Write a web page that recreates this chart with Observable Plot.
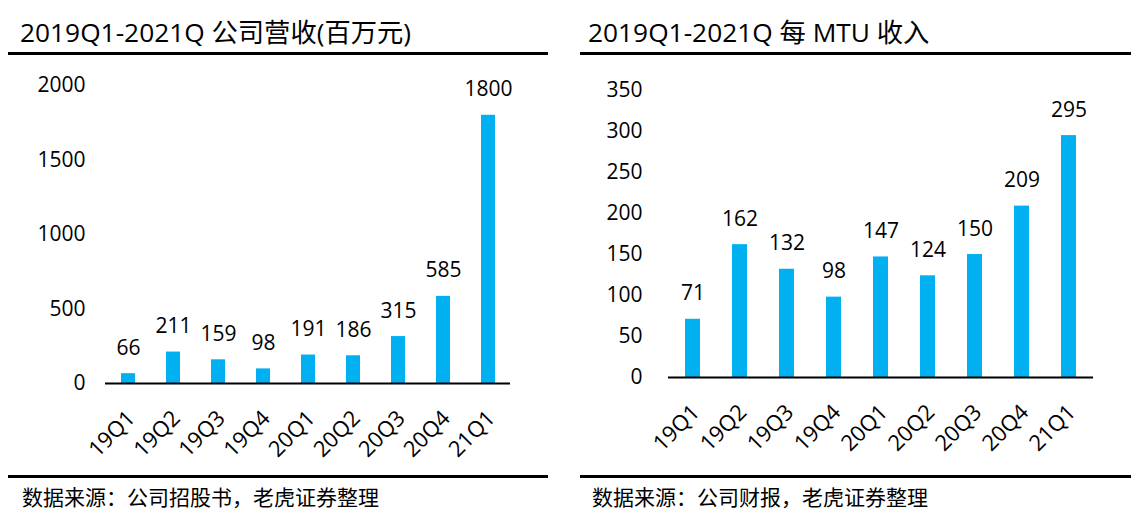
<!DOCTYPE html>
<html>
<head>
<meta charset="utf-8">
<script src="https://cdn.jsdelivr.net/npm/d3@7"></script>
<script src="https://cdn.jsdelivr.net/npm/@observablehq/plot@0.6"></script>
<style>
  html, body { margin: 0; padding: 0; background: #fff; }
  body { width: 1141px; height: 521px; position: relative; overflow: hidden;
         font-family: "Open Sans", "Noto Sans CJK SC", sans-serif; color: #000; }
  .title { position: absolute; top: 15px; font-size: 26.3px; line-height: 34px; white-space: nowrap; }
  .rule { position: absolute; height: 3px; background: #000; }
  .caption { position: absolute; top: 482px; font-size: 21px; line-height: 28px; white-space: nowrap;
             font-family: "Noto Sans CJK SC", sans-serif; }
  .plot { position: absolute; top: 60px; }
  .plot svg { overflow: visible; }
</style>
</head>
<body>
<div class="title" style="left:20px">2019Q1-2021Q 公司营收(百万元)</div>
<div class="title" style="left:588px">2019Q1-2021Q 每 MTU 收入</div>
<div class="rule" style="left:8px;width:540px;top:52px"></div>
<div class="rule" style="left:580px;width:551px;top:52px"></div>
<div class="rule" style="left:8px;width:540px;top:475px"></div>
<div class="rule" style="left:580px;width:551px;top:475px"></div>
<div class="caption" style="left:22px">数据来源：公司招股书，老虎证券整理</div>
<div class="caption" style="left:592px">数据来源：公司财报，老虎证券整理</div>
<div id="left" class="plot" style="left:0px"></div>
<div id="right" class="plot" style="left:570px"></div>
<script>
const quarters = ["19Q1","19Q2","19Q3","19Q4","20Q1","20Q2","20Q3","20Q4","21Q1"];
const revenue = [66, 211, 159, 98, 191, 186, 315, 585, 1800];
const revPerMTU = [71, 162, 132, 98, 147, 124, 150, 209, 295];
const revTicks = [0, 500, 1000, 1500, 2000];
const mtuTicks = [0, 50, 100, 150, 200, 250, 300, 350];

const barColor = "#00B0F0";
const font = '"Open Sans", "Noto Sans CJK SC", sans-serif';

function makeChart(values, ticks, maxY, opts) {
  const data = quarters.map((q, i) => ({q, v: values[i]}));
  return Plot.plot({
    width: opts.width,
    height: 400,
    marginLeft: opts.ml,
    marginRight: opts.mr,
    marginTop: opts.mt,
    marginBottom: opts.mb,
    style: {fontFamily: font, fontSize: "21px", color: "#000", background: "transparent"},
    x: {domain: quarters, paddingInner: 0.69, paddingOuter: 0.345, align: 0.5, label: null, axis: null},
    y: {domain: [0, maxY], label: null},
    marks: [
      Plot.axisY({ticks: ticks, tickFormat: d => String(d), tickSize: 0, tickPadding: opts.tp, fontSize: 21, label: null}),
      Plot.text(quarters, {x: d => d, y: () => 0, text: d => d, rotate: -45, textAnchor: "end",
        lineAnchor: "middle", dx: 3, dy: 31, fontSize: 22, fill: "#000"}),
      Plot.barY(data, {x: "q", y: "v", fill: barColor}),
      Plot.text(data, {x: "q", y: "v", text: d => String(d.v), dy: -19, lineAnchor: "bottom", fontSize: 21, fill: "#000"}),
      Plot.ruleY([0], {stroke: "#000", strokeWidth: 2})
    ]
  });
}

document.getElementById("left").appendChild(
  makeChart(revenue, revTicks, 2000, {width: 570, ml: 105, mr: 60, mt: 25, mb: 77, tp: 20})
);
document.getElementById("right").appendChild(
  makeChart(revPerMTU, mtuTicks, 350, {width: 571, ml: 98, mr: 48, mt: 30, mb: 83, tp: 26})
);
</script>
</body>
</html>
